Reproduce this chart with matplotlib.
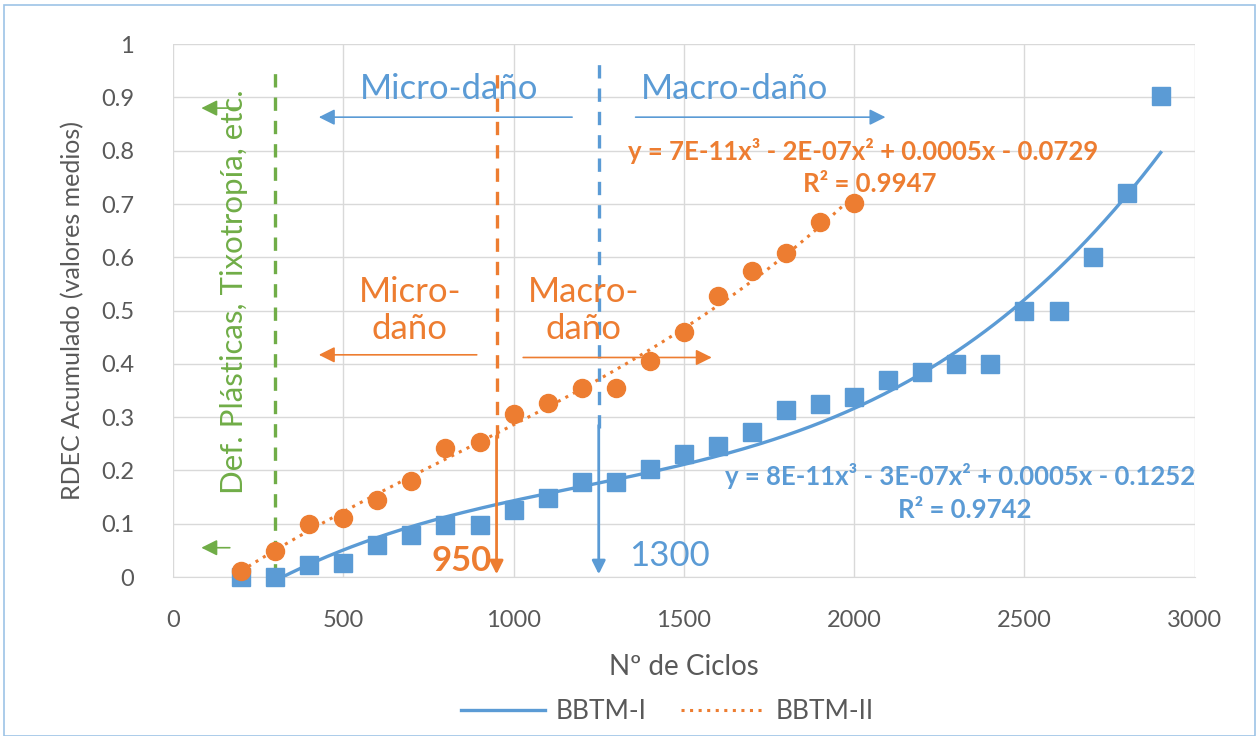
"""RDEC acumulado vs numero de ciclos (BBTM-I / BBTM-II)"""

#%% Importing modules
import numpy as np
import matplotlib
matplotlib.use('Agg')
import matplotlib.pyplot as plt
from matplotlib.patches import Rectangle

plt.rcParams['font.family'] = ['Lato', 'DejaVu Sans']

#%% Data
ciclos_1 = [200, 300, 400, 500, 600, 700, 800, 900, 1000, 1100, 1200, 1300, 1400,
            1500, 1600, 1700, 1800, 1900, 2000, 2100, 2200, 2300, 2400, 2500,
            2600, 2700, 2800, 2900]
rdec_1 = [0.0, 0.0, 0.023, 0.026, 0.06, 0.079, 0.098, 0.098, 0.126, 0.148, 0.178,
          0.178, 0.203, 0.231, 0.246, 0.272, 0.313, 0.325, 0.338, 0.37, 0.385,
          0.4, 0.4, 0.5, 0.5, 0.6, 0.72, 0.902]

ciclos_2 = [200, 300, 400, 500, 600, 700, 800, 900, 1000, 1100, 1200, 1300, 1400,
            1500, 1600, 1700, 1800, 1900, 2000]
rdec_2 = [0.011, 0.049, 0.1, 0.11, 0.145, 0.18, 0.243, 0.253, 0.306, 0.327, 0.355,
          0.355, 0.405, 0.46, 0.527, 0.574, 0.608, 0.666, 0.702]

limites = [300, 950, 1250]   # green, orange, blue vertical lines
xticks = [0, 500, 1000, 1500, 2000, 2500, 3000]
yticks = [0, 0.1, 0.2, 0.3, 0.4, 0.5, 0.6, 0.7, 0.8, 0.9, 1]
ytick_labels = ['0', '0.1', '0.2', '0.3', '0.4', '0.5', '0.6', '0.7', '0.8', '0.9', '1']

eq_1 = 'y = 8E-11x³ - 3E-07x² + 0.0005x - 0.1252'
r2_1 = 'R² = 0.9742'
eq_2 = 'y = 7E-11x³ - 2E-07x² + 0.0005x - 0.0729'
r2_2 = 'R² = 0.9947'

#%% Colours
blue = '#5B9BD5'
orange = '#ED7D31'
green = '#70AD47'
grey = '#595959'

#%% Figure
fig = plt.figure(figsize=(12.59, 7.36), dpi=100)
ax = fig.add_axes([0.1374, 0.216, 0.8116, 0.724])
fig.patches.append(Rectangle((0.003, 0.0), 0.994, 0.993, transform=fig.transFigure,
                             fill=False, edgecolor='#9DC3E6', lw=1.2))

# cubic trend lines (like Excel)
p1 = np.polyfit(ciclos_1, rdec_1, 3)
p2 = np.polyfit(ciclos_2, rdec_2, 3)
xx1 = np.linspace(ciclos_1[0], ciclos_1[-1], 300)
xx2 = np.linspace(ciclos_2[0], ciclos_2[-1], 300)
ax.plot(xx1, np.polyval(p1, xx1), color=blue, lw=2.4, label='BBTM-I', zorder=3)
ax.plot(xx2, np.polyval(p2, xx2), color=orange, lw=2.2, ls=(0, (1, 1.8)), label='BBTM-II', zorder=3)

ax.plot(ciclos_1, rdec_1, 's', color=blue, ms=13, clip_on=False, zorder=4)
ax.plot(ciclos_2, rdec_2, 'o', color=orange, ms=13, clip_on=False, zorder=5)

#%% Vertical limit lines
ax.plot([limites[0], limites[0]], [0, 0.955], color=green, ls=(0, (4, 3)), lw=2.4, zorder=2)
ax.plot([limites[1], limites[1]], [0.26, 0.955], color=orange, ls=(0, (4, 3)), lw=2.4, zorder=2)
ax.plot([limites[2], limites[2]], [0.28, 0.98], color=blue, ls=(0, (4, 3)), lw=2.4, zorder=2)
ax.annotate('', xy=(limites[1], 0), xytext=(limites[1], 0.27),
            arrowprops=dict(arrowstyle='-|>', color=orange, lw=2, mutation_scale=20))
ax.annotate('', xy=(limites[2], 0), xytext=(limites[2], 0.29),
            arrowprops=dict(arrowstyle='-|>', color=blue, lw=2, mutation_scale=20))

#%% Horizontal arrows
def arrow(x0, x1, y, c):
    ax.annotate('', xy=(x1, y), xytext=(x0, y),
                arrowprops=dict(arrowstyle='-|>', color=c, lw=1.2, mutation_scale=24))

arrow(205, 75, 0.88, green)
arrow(175, 75, 0.055, green)
arrow(1180, 420, 0.863, blue)
arrow(1350, 2100, 0.863, blue)
arrow(900, 420, 0.417, orange)
arrow(1020, 1590, 0.412, orange)

#%% Texts
ax.text(810, 0.915, 'Micro-daño', color=blue, fontsize=25, ha='center', va='center')
ax.text(1650, 0.915, 'Macro-daño', color=blue, fontsize=25, ha='center', va='center')
ax.text(695, 0.5, 'Micro-\ndaño', color=orange, fontsize=25, ha='center', va='center',
        linespacing=1.2)
ax.text(1205, 0.5, 'Macro-\ndaño', color=orange, fontsize=25, ha='center', va='center',
        linespacing=1.2)
ax.text(178, 0.535, 'Def. Plásticas, Tixotropía, etc.', color=green, fontsize=22.5,
        rotation=90, ha='center', va='center')
ax.text(935, 0.03, '950', color=orange, fontsize=25, ha='right', va='center', fontweight='bold')
ax.text(1340, 0.04, '1300', color=blue, fontsize=25, ha='left', va='center')
ax.text(2025, 0.80, eq_2, color=orange, fontsize=18.5, ha='center', va='center', fontweight='bold')
ax.text(2045, 0.737, r2_2, color=orange, fontsize=18.5, ha='center', va='center', fontweight='bold')
ax.text(2310, 0.19, eq_1, color=blue, fontsize=18.5, ha='center', va='center', fontweight='bold')
ax.text(2325, 0.126, r2_1, color=blue, fontsize=18.5, ha='center', va='center', fontweight='bold')

#%% Axes style
ax.set_xlim(0, 3000)
ax.set_ylim(0, 1)
ax.set_xticks(xticks)
ax.set_yticks(yticks)
ax.set_yticklabels(ytick_labels)
ax.grid(True, color='#D9D9D9', lw=1)
ax.set_axisbelow(True)
for s in ['top', 'right', 'left']:
    ax.spines[s].set_visible(False)
ax.spines['bottom'].set_color('#D9D9D9')
ax.tick_params(length=0, labelsize=17, labelcolor=grey)
ax.tick_params(axis='x', pad=24)
ax.tick_params(axis='y', pad=28)
ax.set_xlabel('Nº de Ciclos', fontsize=20, color=grey, labelpad=16)
ax.set_ylabel('RDEC Acumulado (valores medios)', fontsize=18, color=grey, labelpad=12)

fig.legend(loc='center', bbox_to_anchor=(0.53, 0.033), ncol=2, frameon=False,
           fontsize=19, handlelength=3.2, handletextpad=0.4, columnspacing=1.3,
           labelcolor=grey)

fig.savefig('out.png', dpi=100)
